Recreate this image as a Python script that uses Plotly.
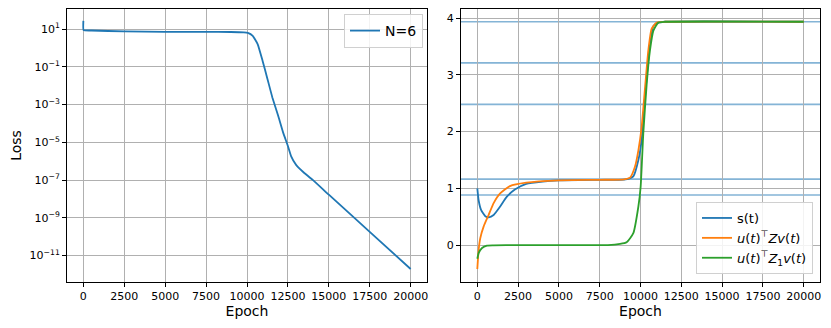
import numpy as np
import plotly.graph_objects as go

# ---------------- data ----------------
loss_epochs = [0, 15, 500, 2500, 5000, 7500, 9000, 9800, 10050, 10350, 10650, 10950,
               11250, 11550, 11900, 12200, 12500, 12700, 13000, 13400, 14000, 15000,
               17500, 20000]
loss_log10 = [1.44, 0.95, 0.93, 0.88, 0.86, 0.855, 0.85, 0.83, 0.80, 0.645, 0.21, -0.67,
              -1.64, -2.62, -3.58, -4.46, -5.2, -5.75, -6.2, -6.55, -6.98, -7.78,
              -9.75, -11.72]
loss_values = [10 ** v for v in loss_log10]

s_epochs = [0, 80, 230, 490, 700, 1000, 1400, 1800, 2300, 3000, 4000, 5000, 7500, 9000,
            9300, 9560, 9870, 10070, 10210, 10380, 10580, 10790, 11100, 11500, 20000]
s_values = [1.0, 0.79, 0.62, 0.51, 0.49, 0.53, 0.68, 0.85, 0.98, 1.08, 1.12, 1.14, 1.15,
            1.155, 1.17, 1.21, 1.50, 1.85, 2.37, 2.96, 3.54, 3.86, 3.92, 3.935, 3.935]

z_epochs = [0, 80, 180, 390, 690, 1000, 1400, 2000, 3000, 5000, 7500, 9000, 9360, 9660,
            9870, 10070, 10280, 10480, 10680, 10990, 11500, 20000]
z_values = [-0.42, -0.09, 0.12, 0.33, 0.53, 0.74, 0.91, 1.04, 1.10, 1.14, 1.15, 1.16,
            1.19, 1.38, 1.67, 2.08, 2.78, 3.43, 3.81, 3.92, 3.935, 3.935]

z1_epochs = [0, 80, 290, 590, 1000, 2500, 5000, 8000, 8750, 9150, 9560, 9870, 10010,
             10170, 10380, 10580, 10790, 11090, 11500, 20000]
z1_values = [-0.24, -0.14, -0.05, -0.01, -0.005, 0.0, 0.0, 0.0, 0.02, 0.05, 0.21, 0.68,
             1.03, 1.96, 2.84, 3.43, 3.78, 3.92, 3.935, 3.935]

hlines = [3.935, 3.21, 2.48, 1.163, 0.883]

x_ticks = [0, 2500, 5000, 7500, 10000, 12500, 15000, 17500, 20000]
loss_tick_exps = [1, -1, -3, -5, -7, -9, -11]
right_y_ticks = [0, 1, 2, 3, 4]

# ---------------- figure ----------------
BLUE = "#1f77b4"
ORANGE = "#ff7f0e"
GREEN = "#2ca02c"
FONT = "DejaVu Sans"
OFF = 8                      # page body margin in the browser
W, H = 831 - OFF, 328 - OFF
ML, MR, MT, MB = 67 - OFF, 11, 8 - OFF + 1, 46
PW = W - ML - MR
PH = H - MT - MB

fig = go.Figure()

fig.add_trace(go.Scatter(x=loss_epochs, y=loss_values, mode="lines", name="N=6",
                         line=dict(color=BLUE, width=1.8, shape="spline", smoothing=0.4),
                         xaxis="x", yaxis="y", legend="legend"))

fig.add_trace(go.Scatter(x=s_epochs, y=s_values, mode="lines", name="s(t)",
                         line=dict(color=BLUE, width=1.8, shape="spline", smoothing=0.5),
                         xaxis="x2", yaxis="y2", legend="legend2"))
fig.add_trace(go.Scatter(x=z_epochs, y=z_values, mode="lines",
                         name="<i>u</i>(<i>t</i>)<sup>⊤</sup><i>Zv</i>(<i>t</i>)",
                         line=dict(color=ORANGE, width=1.8, shape="spline", smoothing=0.5),
                         xaxis="x2", yaxis="y2", legend="legend2"))
fig.add_trace(go.Scatter(x=z1_epochs, y=z1_values, mode="lines",
                         name="<i>u</i>(<i>t</i>)<sup>⊤</sup><i>Z</i><sub>1</sub><i>v</i>(<i>t</i>)",
                         line=dict(color=GREEN, width=1.8, shape="spline", smoothing=0.5),
                         xaxis="x2", yaxis="y2", legend="legend2"))

for v in hlines:
    fig.add_shape(type="line", xref="x2 domain", yref="y2", x0=0, x1=1, y0=v, y1=v,
                  line=dict(color="rgba(31,119,180,0.55)", width=1.6), layer="below")

x_dom1 = [0, 360 / PW]
x_dom2 = [394 / PW, 1]
y_dom = [0, 1]

common_axis = dict(showline=True, linecolor="black", linewidth=1, mirror=True,
                   ticks="outside", ticklen=4, tickcolor="black", tickwidth=1,
                   showgrid=True, gridcolor="#b0b0b0", gridwidth=0.9, zeroline=False,
                   automargin=False,
                   tickfont=dict(family=FONT, size=11, color="black"))

xaxis_common = dict(common_axis, range=[-1000, 21000], tickvals=x_ticks,
                    ticktext=[str(t) for t in x_ticks],
                    title=dict(text="Epoch", font=dict(family=FONT, size=14, color="black"),
                               standoff=3))

fig.update_layout(
    width=W, height=H,
    margin=dict(l=ML, r=MR, t=MT, b=MB, autoexpand=False),
    paper_bgcolor="white", plot_bgcolor="white",
    font=dict(family=FONT, color="black"),
    xaxis=dict(xaxis_common, domain=x_dom1, anchor="y"),
    yaxis=dict(common_axis, domain=y_dom, anchor="x", type="log",
               range=[-12.41, 2.07],
               tickvals=[10 ** e for e in loss_tick_exps],
               ticktext=["10<sup>%s</sup>" % (str(e).replace("-", "−")) for e in loss_tick_exps],
               title=dict(text="Loss", font=dict(family=FONT, size=14, color="black"),
                          standoff=6)),
    xaxis2=dict(xaxis_common, domain=x_dom2, anchor="y2"),
    yaxis2=dict(common_axis, domain=y_dom, anchor="x2", range=[-0.65, 4.16],
                tickvals=right_y_ticks, ticktext=[str(t) for t in right_y_ticks]),
    legend=dict(x=(423 - 67) / PW, y=1 - (13 - 8) / PH, xanchor="right",
                yanchor="top", xref="paper", yref="paper",
                bgcolor="rgba(255,255,255,0.85)", bordercolor="#d0d0d0", borderwidth=1,
                font=dict(family=FONT, size=14, color="black")),
    legend2=dict(x=1 - (820 - 813) / PW, y=(282 - 274) / PH, xanchor="right",
                 yanchor="bottom", xref="paper", yref="paper",
                 bgcolor="rgba(255,255,255,0.85)", bordercolor="#d0d0d0", borderwidth=1,
                 font=dict(family=FONT, size=13, color="black")),
    showlegend=True,
)

fig.write_html("out.html")
